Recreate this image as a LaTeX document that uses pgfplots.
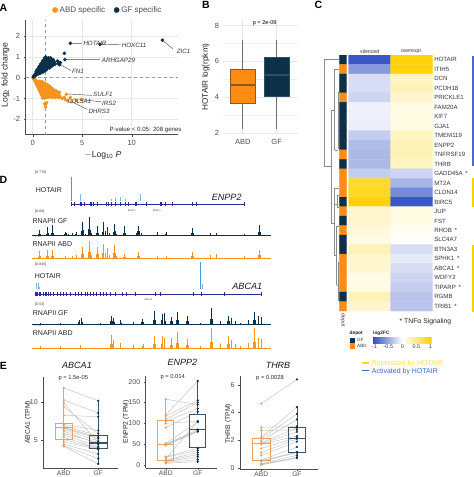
\documentclass[border=0pt]{standalone}
\usepackage{fontspec}
\setmainfont{Liberation Sans}
\usepackage{pgfplots}
\usepackage{pgfplotstable}
\pgfplotsset{compat=1.18}
\usepgfplotslibrary{statistics}
\definecolor{abd}{HTML}{F7941D}
\definecolor{gf}{HTML}{0D3049}
\definecolor{boxo}{HTML}{FF8A14}
\definecolor{boxe}{HTML}{8C5A1E}
\definecolor{eor}{HTML}{E9A15B}
\definecolor{egf}{HTML}{3E5468}
\definecolor{tickg}{HTML}{4D4D4D}
\definecolor{hblue}{HTML}{2F4FC4}
\definecolor{hyel}{HTML}{FFD000}
\definecolor{gene}{HTML}{2A2A9E}
\definecolor{peak}{HTML}{3C9FD6}
\definecolor{dend}{HTML}{8A8A8A}
\newcommand\fs[1]{\fontsize{#1}{#1}\selectfont}
\makeatletter
\tikzdeclarecoordinatesystem{px}{\px@parse#1\relax}
\def\px@parse#1,#2\relax{\pgfmathparse{477-(#2)}\pgf@y=\pgfmathresult pt\relax\pgf@x=#1pt\relax}
\makeatother
\pgfplotsset{
  base/.style={anchor=south west,scale only axis,/pgf/number format/assume math mode=true,
    ticklabel style={font=\fs{7.5},text=tickg},tick style={tickg},major tick length=2pt,boxplot/draw direction=y},
  track/.style={anchor=south west,scale only axis,hide axis,width=474pt,height=30pt,xmin=0,xmax=474,ymin=0,ymax=30,clip=false},
  pairs/.style={base,axis x line*=bottom,axis y line*=left,axis line style={tickg,line width=.7pt},
    tick align=outside,xtick={1,2},xticklabels={ABD,GF},xticklabel style={font=\fs{6.6},inner sep=.6pt},yticklabel style={font=\fs{7}},clip=false,
    boxplot/box extend=.5,boxplot/whisker extend=0,boxplot/every median/.style={line width=1.1pt}},
}
% ---- panel D tracks (x in picture pixels, y = signal height)
\pgfplotstableread[row sep=\\]{x y\\38.5 1.5\\39.3 5.7\\40.2 1.5\\46.5 2\\47.3 9\\48.2 2.5\\51.8 3\\52.7 10.7\\53.6 2.5\\57 1\\60 1\\64 2\\65 3.3\\66 2.5\\68 1.5\\70 1\\72.7 3\\75.7 1.5\\76.7 3.3\\78 1\\81.7 5\\82.7 14\\83.8 6\\85 2\\88 7\\89 19\\90 6\\91.2 3\\96 3\\97 9.7\\98 3\\102.7 4\\103.7 13.3\\105 5\\107.7 8.3\\109 3\\113 4\\114 12\\115 5\\116.5 2\\120 1\\123 3\\124 9.7\\125 3\\130 1\\136 2.5\\137.3 5\\138.3 10\\139.5 5\\141 3\\150 1\\157.3 3.7\\165.5 1.5\\166.7 3.7\\180 .8\\191.7 3\\192.7 8\\193.7 3\\200 .8\\210.7 2.3\\216.7 2.3\\225 .8\\235 .8\\244 1.7\\258.7 4\\259.7 10.7\\260.7 4\\}\trackA
\pgfplotstableread[row sep=\\]{x y\\38.5 1.5\\39.3 7.3\\40.2 2\\46.5 2\\47.3 8.3\\48.2 2.5\\51.8 2.5\\52.7 8.3\\53.6 2.5\\65 2.3\\72.7 2.3\\76.7 3.3\\81.7 4\\82.7 11\\83.8 4\\88 6\\89 17.3\\90 6\\91.2 3\\96 4\\97 11\\98 4\\102.7 5\\103.7 14.3\\105 5\\107.7 10\\109 3\\113 5\\114 13.7\\115 5\\116.5 2\\123 1.5\\124 4.3\\125 1.5\\137.3 2.5\\138.3 6.7\\139.5 2.5\\157.3 2.3\\166.7 2.3\\191.7 2\\192.7 6\\193.7 2\\210.7 3.3\\216.7 4.3\\244 2.3\\258.7 3\\259.7 8\\260.7 3\\}\trackB
\pgfplotstableread[row sep=\\]{x y\\40 1\\60 1\\78.5 2\\79.3 4.3\\81 6\\82 2\\100 1\\110 3\\111 8.7\\112 3\\113.3 6.7\\114.5 2\\120 4.3\\121 1.5\\133.3 2.7\\141.7 2\\142.7 5.3\\143.7 2\\153.3 4\\154.3 13.3\\155.3 4\\161.3 4\\162.3 10\\164.3 11\\165.3 3\\170 3\\171 7.3\\172 3\\176.3 4\\177.3 12\\178.3 4\\186.3 3\\187.3 8.7\\188.3 3\\200 1\\210.3 5\\211.3 16\\212.3 5\\220 3.7\\227.7 3\\228.7 8.7\\229.7 3\\231.3 6\\235 3.7\\240 1.5\\248.3 4.3\\253.3 4\\254.3 12.7\\255.3 4\\258.3 8.7\\261 7.7\\}\trackC
\pgfplotstableread[row sep=\\]{x y\\40 2\\60 2\\80 3\\110 4\\111 13\\112 4\\113 8\\120 5\\133 3\\142 1.5\\143 4\\154.3 12\\153.3 4\\155.3 4\\161.3 4\\162.3 12\\164.3 10\\170 3\\171 10\\172 3\\176.3 5\\177.3 15.7\\178.3 5\\186.3 3\\187.3 9\\188.3 3\\200 1.5\\210.3 6\\211.3 19.7\\212.3 6\\220 4\\227.7 4\\228.7 12\\229.7 4\\231 8\\235 4\\240 2\\248 5\\253.3 6\\254.3 20.3\\255.3 6\\258.3 10\\261 9\\}\trackD
% ---- panel E pairs
\pgfplotstableread[row sep=\\]{x y\\1 11.9\\2 10.2\\nan nan\\1 10.3\\2 8.6\\nan nan\\1 9.9\\2 4.7\\nan nan\\1 9.4\\2 5.9\\nan nan\\1 8.3\\2 8.1\\nan nan\\1 7.1\\2 6.3\\nan nan\\1 6.9\\2 5.6\\nan nan\\1 6.7\\2 5.4\\nan nan\\1 6.6\\2 5.2\\nan nan\\1 6.4\\2 4.9\\nan nan\\1 6.2\\2 4.5\\nan nan\\1 5.9\\2 4.7\\nan nan\\1 5.7\\2 4.2\\nan nan\\1 5.4\\2 4.0\\nan nan\\1 5.1\\2 3.9\\nan nan\\1 4.8\\2 3.8\\nan nan\\1 4.5\\2 3.2\\nan nan\\1 4.3\\2 2.6\\nan nan\\1 4.2\\2 1.9\\}\pairA
\pgfplotstableread[row sep=\\]{x y\\1 158\\2 145\\nan nan\\1 120\\2 202\\nan nan\\1 118\\2 155\\nan nan\\1 110\\2 150\\nan nan\\1 105\\2 135\\nan nan\\1 100\\2 105\\nan nan\\1 90\\2 128\\nan nan\\1 52\\2 103\\nan nan\\1 50\\2 85\\nan nan\\1 48\\2 82\\nan nan\\1 47\\2 80\\nan nan\\1 20\\2 40\\nan nan\\1 18\\2 35\\nan nan\\1 15\\2 105\\nan nan\\1 12\\2 30\\nan nan\\1 10\\2 25\\nan nan\\1 8\\2 20\\nan nan\\1 6\\2 13\\nan nan\\1 4\\2 8\\}\pairB
\pgfplotstableread[row sep=\\]{x y\\1 4.65\\2 6.4\\nan nan\\1 2.93\\2 3.0\\nan nan\\1 2.7\\2 2.75\\nan nan\\1 2.2\\2 4.4\\nan nan\\1 2.1\\2 3.9\\nan nan\\1 1.95\\2 3.5\\nan nan\\1 1.8\\2 2.9\\nan nan\\1 1.75\\2 2.6\\nan nan\\1 1.7\\2 2.3\\nan nan\\1 1.4\\2 2.2\\nan nan\\1 1.1\\2 2.1\\nan nan\\1 .9\\2 1.9\\nan nan\\1 .55\\2 1.5\\nan nan\\1 .5\\2 1.15\\nan nan\\1 .45\\2 1.1\\nan nan\\1 .3\\2 .9\\nan nan\\1 .25\\2 .75\\nan nan\\1 .2\\2 .7\\}\pairC
\newcommand\pairplots[1]{%
  \addplot[gray!45,line width=.5pt,unbounded coords=jump] table {#1};
  \addplot[only marks,mark=*,mark size=.9pt,eor,restrict x to domain=.5:1.5] table {#1};
  \addplot[only marks,mark=*,mark size=.9pt,gf,restrict x to domain=1.5:2.5] table {#1};
}
\begin{document}
\begin{tikzpicture}
\path[use as bounding box] (0,0) rectangle (474pt,477pt);
% ================= A
\begin{axis}[base,at={(px cs:25.7,134.7)},width=152.3pt,height=114.7pt,
  xmin=-.71,xmax=14.68,ymin=-2.74,ymax=2.77,xtick={0,5,10},ytick={-2,-1,0,1,2},
  axis x line*=bottom,axis y line*=left,axis line style={tickg,line width=1pt},tick align=outside,
  grid=major,grid style={gray!18,line width=.5pt},clip=false,
  legend columns=2,legend style={at={(.155,1.087)},anchor=west,draw=none,fill=none,font=\fs{8},text=tickg,
    /tikz/every even column/.append style={column sep=7pt}},
  legend image post style={mark size=2.6pt}]
\addplot[only marks,mark=*,mark size=1.6pt,abd] coordinates {(.05,-.03)(.1,-.08)(.15,-.05)(.2,-.15)(.2,-.1)(.3,-.25)(.3,-.12)(.4,-.35)(.4,-.2)(.5,-.45)(.5,-.3)(.5,-.18)(.6,-.55)(.6,-.4)(.6,-.25)(.7,-.65)(.7,-.5)(.7,-.3)(.7,-.18)(.8,-.75)(.8,-.6)(.8,-.45)(.8,-.3)(.8,-.2)(.9,-.85)(.9,-.7)(.9,-.5)(.9,-.35)(.9,-.22)(1,-.98)(1,-.85)(1,-.75)(1,-.6)(1,-.45)(1,-.3)(1,-.2)(1.1,-.95)(1.1,-.85)(1.1,-.7)(1.1,-.55)(1.1,-.35)(1.1,-.25)(1.2,-.98)(1.2,-.9)(1.2,-.75)(1.2,-.6)(1.2,-.45)(1.2,-.3)(1.3,-.95)(1.3,-.85)(1.3,-.7)(1.3,-.55)(1.3,-.4)(1.3,-.3)(1.4,-.9)(1.4,-.75)(1.4,-.6)(1.4,-.45)(1.4,-.33)(1.5,-.95)(1.5,-.88)(1.5,-.7)(1.5,-.5)(1.5,-.36)(1.6,-.93)(1.6,-.8)(1.6,-.65)(1.6,-.5)(1.6,-.38)(1.7,-.9)(1.7,-.75)(1.7,-.6)(1.7,-.42)(1.8,-.92)(1.8,-.85)(1.8,-.7)(1.8,-.55)(1.8,-.45)(1.9,-.8)(1.9,-.65)(1.9,-.5)(2,-.95)(2,-.85)(2,-.7)(2,-.55)(2.1,-.9)(2.1,-.75)(2.1,-.58)(2.2,-.85)(2.2,-.65)(2.3,-.95)(2.3,-.75)(2.3,-.62)(2.4,-.8)(2.4,-.65)(2.5,-.9)(2.5,-.7)(2.6,-.95)(2.6,-.75)(2.7,-.7)(2.7,-.85)(2.8,-.95)(3,-1.0)(3.4,-.8)(3.2,-.95)(3.3,-1.05)(3.5,-1.1)(3.8,-.95)(3.9,-1.15)(4.4,-1.1)(4.9,-1.05)(1.2,-1.25)(1.3,-1.3)(1.4,-1.2)(1.3,-1.42)};
\addlegendentry{ABD specific}
\addplot[only marks,mark=*,mark size=1.6pt,gf] coordinates {(.05,.03)(.1,.08)(.15,.05)(.2,.15)(.2,.08)(.3,.2)(.3,.1)(.35,.28)(.4,.15)(.4,.35)(.45,.22)(.5,.4)(.5,.28)(.55,.18)(.6,.5)(.6,.35)(.65,.25)(.7,.55)(.7,.42)(.7,.3)(.7,.2)(.8,.65)(.8,.5)(.8,.35)(.85,.25)(.9,.7)(.9,.55)(.9,.42)(.9,.25)(1,.8)(1,.65)(1,.5)(1,.35)(1.05,.28)(1.1,.85)(1.1,.7)(1.1,.55)(1.1,.42)(1.1,.3)(1.2,.95)(1.2,.78)(1.2,.62)(1.2,.45)(1.25,.35)(1.3,1.0)(1.3,.85)(1.3,.7)(1.3,.55)(1.3,.42)(1.4,.95)(1.4,.8)(1.4,.65)(1.4,.5)(1.4,.38)(1.5,.85)(1.5,.72)(1.5,.58)(1.5,.45)(1.6,.95)(1.6,.8)(1.6,.65)(1.6,.5)(1.7,.88)(1.7,.72)(1.7,.58)(1.7,.47)(1.8,.95)(1.8,.8)(1.8,.65)(1.8,.52)(1.9,.9)(1.9,.75)(1.9,.6)(2,.85)(2,.7)(2,.58)(2.1,.85)(2.1,.72)(2.1,.62)(2.2,.75)(2.25,.65)(2.5,.8)(2.55,.68)(2.6,.75)(2.7,.62)(2.8,.72)(3.25,.87)(3.2,1.17)(3.8,1.65)(6.8,1.6)(13.1,1.8)};
\addlegendentry{GF specific}
\addplot[forget plot,gray!80,dashed,line width=.6pt] coordinates {(1.3,-2.74)(1.3,2.77)};
\addplot[forget plot,gray!80,dashed,line width=.6pt] coordinates {(-.71,0)(14.68,0)};
\addplot[forget plot,tickg,line width=.45pt,unbounded coords=jump] coordinates {(3.8,1.65)(4.97,1.65)(nan,nan)(6.8,1.6)(8.92,1.58)(nan,nan)(13.1,1.8)(14.15,1.39)(nan,nan)(3.25,.87)(6.8,.87)(nan,nan)(2.5,.7)(3.88,.34)(nan,nan)(3.4,-.78)(5.98,-.85)(nan,nan)(4.9,-1.05)(6.9,-1.16)(nan,nan)(3.9,-1.15)(5.5,-1.52)};
\end{axis}
\node[anchor=center,rotate=90,text=black!85,font=\fs{8.6}] at (px cs:5.5,75) {Log$_{\mathrm{2}}$ fold change};
\node[anchor=center,text=black!85,font=\fs{8.6}] at (px cs:103,155.5) {$-$Log$_{\mathrm{10}}$ \textit{P}};
\foreach \t/\x/\y in {HOTAIR/83.3/43.3,HOXC11/121.7/45,ZIC1/176.7/51,ARHGAP29/101.7/60,FN1/72/71.7,SULF1/93/94.3,COL5A1/67.3/101,IRS2/102/103,DHRS3/88.3/111}
  \node[anchor=west,inner sep=0pt,text=black!80,font=\fs{6.2}\itshape] at (px cs:\x,\y) {\t};
\node[anchor=east,inner sep=0pt,text=black!85,font=\fs{6.1}] at (px cs:181.7,130) {P-value < 0.05: 208 genes};
% ================= B
\begin{axis}[base,at={(px cs:222.7,133.3)},width=75pt,height=113.3pt,xmin=.41,xmax=2.62,ymin=1.97,ymax=8.32,
  xtick={1,2},xticklabels={ABD,GF},ytick={2,4,6,8},minor y tick num=1,grid=both,
  xticklabel style={yshift=-2.5pt},
  grid style={gray!18,line width=.5pt},minor grid style={gray!12,line width=.4pt},
  axis line style={draw=none},tick style={draw=none},minor tick length=0pt,
  boxplot/box extend=.75,boxplot/whisker extend=0,
  boxplot/every whisker/.style={gray!85!black,line width=1.1pt},
  boxplot/every median/.style={line width=1.3pt}]
\addplot[boxplot prepared={draw position=1,lower whisker=2.2,lower quartile=3.68,median=4.68,upper quartile=5.55,upper whisker=7.2},fill=boxo,draw=boxe] coordinates {};
\addplot[boxplot prepared={draw position=2,lower whisker=2.2,lower quartile=4.04,median=5.23,upper quartile=6.26,upper whisker=7.2},fill=gf,draw=gf!85!white] coordinates {};
\end{axis}
\node[rotate=90,text=black!85,font=\fs{8.2}] at (px cs:205.7,77) {HOTAIR log(rpkm)};
\node[text=black,font=\fs{5.6}] at (px cs:264.7,23.3) {p = 2e-09};
% ================= C
\begin{axis}[anchor=south west,scale only axis,at={(px cs:348.7,311)},width=84pt,height=256pt,
  /pgf/number format/assume math mode=true,
  y dir=reverse,xmin=.5,xmax=2.5,ymin=.5,ymax=27.5,
  xtick={1,2},xticklabels={silenced,overexpr.},xticklabel pos=top,xticklabel style={font=\fs{5.2},text=black!80,inner sep=1pt},
  ytick={1,...,27},yticklabel pos=right,yticklabel style={font=\fs{6.1},text=black!80,inner sep=1.4pt,anchor=west},
  yticklabels={HOTAIR,ITIH5,DCN,PCDH18,PRICKLE1,FAM20A,KIF7,GJA1,TMEM119,ENPP2,TNFRSF19,THRB,GADD45A \,*,MT2A,CLDN14,BIRC5,JUP,FST,RHOB \,*,SLC4A7,BTN3A3,SPHK1 \,*,ABCA1 \,*,WDFY2,TIPARP \,*,RGMB,TRIB1 \,*},
  major tick length=0pt,axis line style={draw=none},
  colormap={hm}{rgb255(0)=(47,79,196) rgb255(1)=(255,255,255) rgb255(2)=(255,208,0)},
  point meta min=-1.05,point meta max=1.05,
  colorbar horizontal,
  colorbar style={at={(.289,-.126)},anchor=south west,width=58.7pt,height=5.6pt,scale only axis,
    xtick={-1,-.5,0,.5,1},xticklabel style={font=\fs{5.4},text=black!80,inner sep=1pt},
    major tick length=0pt,axis line style={draw=none},
    /pgf/number format/assume math mode=true}]
\addplot[matrix plot*,mesh/cols=2,point meta=explicit] table[row sep=\\,meta=c] {x y c\\
1 1 -1\\2 1 1\\1 2 -.6\\2 2 1\\1 3 -.2\\2 3 .25\\1 4 -.2\\2 4 .3\\1 5 -.25\\2 5 .2\\1 6 -.08\\2 6 .12\\1 7 -.08\\2 7 .12\\1 8 -.1\\2 8 .12\\1 9 -.3\\2 9 .25\\1 10 -.4\\2 10 .3\\1 11 -.42\\2 11 .3\\1 12 -.42\\2 12 .25\\1 13 -.3\\2 13 -.25\\1 14 .85\\2 14 -.45\\1 15 .9\\2 15 -.7\\1 16 1\\2 16 -1\\1 17 .2\\2 17 .12\\1 18 .2\\2 18 .12\\1 19 .15\\2 19 .05\\1 20 .12\\2 20 .03\\1 21 .3\\2 21 -.2\\1 22 .2\\2 22 -.12\\1 23 .2\\2 23 -.2\\1 24 .1\\2 24 -.25\\1 25 .1\\2 25 -.3\\1 26 .3\\2 26 -.35\\1 27 .2\\2 27 -.35\\};
\end{axis}
% depot annotation
\begin{axis}[anchor=south west,scale only axis,at={(px cs:339.3,311)},width=7.4pt,height=256pt,hide axis,
  y dir=reverse,xmin=.5,xmax=2.5,ymin=.5,ymax=27.5,
  colormap={dp}{color=(gf) color=(boxo)},point meta min=0,point meta max=1]
\addplot[matrix plot*,mesh/cols=2,point meta=explicit] table[row sep=\\,meta=c] {x y c\\
1 1 0\\2 1 0\\1 2 1\\2 2 1\\1 3 0\\2 3 0\\1 4 0\\2 4 0\\1 5 1\\2 5 1\\1 6 0\\2 6 0\\1 7 0\\2 7 0\\1 8 0\\2 8 0\\1 9 0\\2 9 0\\1 10 0\\2 10 0\\1 11 1\\2 11 1\\1 12 0\\2 12 0\\1 13 1\\2 13 1\\1 14 1\\2 14 1\\1 15 1\\2 15 1\\1 16 0\\2 16 0\\1 17 1\\2 17 1\\1 18 0\\2 18 0\\1 19 1\\2 19 1\\1 20 0\\2 20 0\\1 21 0\\2 21 0\\1 22 1\\2 22 1\\1 23 1\\2 23 1\\1 24 1\\2 24 1\\1 25 1\\2 25 1\\1 26 0\\2 26 0\\1 27 1\\2 27 1\\};
\end{axis}
% dendrogram
\begin{scope}[dend,line width=.45pt]
\foreach \a/\b/\c/\d in {339/59.7/324/59.7,324/59.7/324/166,324/166/331.3/166,331.3/110/331.3/223,331.3/110/334.7/110,334.7/69/334.7/150,334.7/69/339/69,334.7/150/338/150,338/92/338/149,338/92/339/92,338/120/339/120,331.3/223/334/223,334/188/334/255,334/188/339/188,334/204/337/204,337/195/337/207,337/195/339/195,337/207/339/207,334/255/336.5/255,336.5/226/336.5/285,336.5/226/339/226,336.5/285/338/285,338/262/338/300,338/262/339/262,338/300/339/300}
  \draw (px cs:\a,\b) -- (px cs:\c,\d);
\end{scope}
\fill[hblue!85] (px cs:471.7,56) rectangle (px cs:474,166);
\fill[hyel] (px cs:471.7,178) rectangle (px cs:474,207);
\fill[hyel] (px cs:471.7,245) rectangle (px cs:474,312);
\node[rotate=270,font=\fs{5.2},text=black!80] at (px cs:343,320) {depot};
\node[font=\fs{6.8},text=black!85,anchor=west,inner sep=0pt] at (px cs:399.5,322) {* TNFα Signaling};
\node[font=\fs{4.8}\bfseries,anchor=west,inner sep=0pt,text=black!85] at (px cs:349.5,333) {depot};
\node[font=\fs{4.8}\bfseries,anchor=west,inner sep=0pt,text=black!85] at (px cs:373,333) {log2FC};
\fill[gf] (px cs:349.7,337.7) rectangle (px cs:354.7,343);
\fill[boxo] (px cs:349.7,343) rectangle (px cs:354.7,349);
\node[font=\fs{4.6},anchor=west,inner sep=0pt,text=black!80] at (px cs:357,340.3) {GF};
\node[font=\fs{4.6},anchor=west,inner sep=0pt,text=black!80] at (px cs:357,346.3) {ABD};
\draw[hyel!85,line width=1.2pt] (px cs:361.7,363) -- (px cs:369,363);
\draw[hblue!85,line width=1.2pt] (px cs:361.7,370.7) -- (px cs:369,370.7);
\node[font=\fs{7},anchor=west,inner sep=0pt,text=hyel!70] at (px cs:371.7,363.3) {Repressed by HOTAIR};
\node[font=\fs{7},anchor=west,inner sep=0pt,text=hblue!70!peak] at (px cs:371.7,371.3) {Activated by HOTAIR};
% ================= D
\begin{axis}[track,at={(px cs:0,200.7)}]
\addplot[ycomb,peak,line width=.9pt] coordinates {(71.7,24)};
\addplot[ycomb,peak!70,line width=.5pt] coordinates {(80,6.7)(111.3,1.5)(115,2.5)(120.7,3.5)(125,2)(140.7,6.7)};
\end{axis}
\begin{axis}[track,at={(px cs:0,219.3)},ymin=-15,ymax=15]
\addplot[gene,line width=.35pt] coordinates {(71.7,0)(244,0)};
\addplot[only marks,gene,mark=|,mark size=1.9pt,mark options={line width=.55pt}] coordinates {(71.7,0)(74,0)(80,0)(81.7,0)(84,0)(90,0)(91.7,0)(93.3,0)(97.3,0)(106.7,0)(108.3,0)(111,0)(115,0)(120.7,0)(125,0)(128.3,0)(135,0)(136.7,0)(146.7,0)(160,0)(161,0)(165.7,0)(172.3,0)(192,0)(196.7,0)(244,0)};
\end{axis}
\begin{axis}[track,at={(px cs:0,235.7)}]
\addplot[ycomb,gf,line width=.7pt] table {\trackA};
\addplot[gf,line width=.5pt] coordinates {(32,.2)(271,.2)};
\end{axis}
\begin{axis}[track,at={(px cs:0,258.3)}]
\addplot[ycomb,abd,line width=.7pt] table {\trackB};
\addplot[abd,line width=.5pt] coordinates {(32,.2)(271,.2)};
\end{axis}
\begin{axis}[track,at={(px cs:0,289.3)}]
\addplot[ycomb,peak,line width=.9pt] coordinates {(200.3,27)};
\addplot[ycomb,peak!70,line width=.6pt] coordinates {(202.7,5)(36.7,6.6)(38.3,6.6)(39.5,2)};
\end{axis}
\begin{axis}[track,at={(px cs:0,308.7)},ymin=-15,ymax=15]
\addplot[gene,line width=.35pt] coordinates {(35.3,0)(261,0)};
\addplot[only marks,gene,mark=|,mark size=1.9pt,mark options={line width=.55pt}] coordinates {(35.3,0)(36.5,0)(37.7,0)(39,0)(40,0)(43.3,0)(45,0)(46.7,0)(48.3,0)(50.7,0)(53.3,0)(57.3,0)(60,0)(63.3,0)(66,0)(70,0)(75,0)(78.3,0)(81.7,0)(85,0)(87.3,0)(90,0)(93.3,0)(96.7,0)(100,0)(103.3,0)(106.7,0)(110,0)(115,0)(122.3,0)(126.7,0)(135,0)(155,0)(160,0)(193.3,0)(201,0)(224,0)(261,0)};
\end{axis}
\begin{axis}[track,at={(px cs:0,324.3)}]
\addplot[ycomb,gf,line width=.7pt] table {\trackC};
\addplot[gf,line width=.5pt] coordinates {(32,.2)(271,.2)};
\end{axis}
\begin{axis}[track,at={(px cs:0,348)}]
\addplot[ycomb,abd,line width=.7pt] table {\trackD};
\addplot[abd,line width=.5pt] coordinates {(32,.2)(271,.2)};
\end{axis}
\foreach \t/\x/\y in {{[0-776]}/35/172.7,{[0-66]}/35/211.3,{[0-845]}/35/265,{[0-53]}/35/304.3}
  \node[anchor=west,inner sep=0pt,font=\fs{3.6},text=black!75] at (px cs:\x,\y) {\t};
\foreach \t/\x/\y in {HOTAIR/35.7/190.3,{RNAPII GF}/32.3/220.7,{RNAPII ABD}/32.3/244.3,HOTAIR/34.7/276.2,{RNAPII GF}/32.7/312.7,{RNAPII ABD}/32.7/332.7}
  \node[anchor=west,inner sep=0pt,font=\fs{7},text=black!85] at (px cs:\x,\y) {\t};
\node[font=\fs{9.1}\itshape,text=black!90] at (px cs:226.7,197.3) {ENPP2};
\node[font=\fs{9.1}\itshape,text=black!90] at (px cs:247.3,286.7) {ABCA1};
\node[font=\fs{2.4},text=black!75] at (px cs:131.7,210.7) {ENPP2};
\node[font=\fs{2.4},text=black!75] at (px cs:156.7,210.7) {ENPP2};
\node[font=\fs{2.4},text=black!75] at (px cs:148.3,299.7) {ABCA1};
\node[font=\fs{2.4},text=black!75] at (px cs:38,236.7) {0 - 66};
\node[font=\fs{2.4},text=black!75] at (px cs:38,325.7) {0 - 53};
% ================= E
\begin{axis}[pairs,at={(px cs:43.3,468.3)},width=75pt,height=91.6pt,xmin=.41,xmax=2.58,ymin=1.32,ymax=13.37,ytick={5,10}]
\pairplots{\pairA}
\addplot[boxplot prepared={draw position=1,lower whisker=4.17,lower quartile=5.13,median=6.71,upper quartile=7.28,upper whisker=11.9},draw=eor,line width=.7pt] coordinates {};
\addplot[boxplot prepared={draw position=2,lower whisker=1.84,lower quartile=3.9,median=4.65,upper quartile=5.6,upper whisker=10.2},draw=egf,line width=.7pt] coordinates {};
\end{axis}
\begin{axis}[pairs,at={(px cs:145.7,468.3)},width=71pt,height=92.3pt,xmin=.375,xmax=2.59,ymin=-8,ymax=213.7,ytick={0,50,100,150,200}]
\pairplots{\pairB}
\addplot[boxplot prepared={draw position=1,lower whisker=4,lower quartile=10,median=50,upper quartile=108,upper whisker=158},draw=eor,line width=.7pt] coordinates {};
\addplot[boxplot prepared={draw position=2,lower whisker=4,lower quartile=42,median=86,upper quartile=121,upper whisker=202},draw=egf,line width=.7pt] coordinates {};
\end{axis}
\begin{axis}[pairs,at={(px cs:240,469)},width=78.3pt,height=93pt,xmin=.403,xmax=2.6,ymin=-.09,ymax=6.65,ytick={0,2,4,6}]
\pairplots{\pairC}
\addplot[boxplot prepared={draw position=1,lower whisker=.2,lower quartile=.53,median=1.75,upper quartile=2.1,upper whisker=2.93},draw=eor,line width=.7pt] coordinates {};
\addplot[boxplot prepared={draw position=2,lower whisker=.68,lower quartile=1.11,median=2.13,upper quartile=2.93,upper whisker=4.4},draw=egf,line width=.7pt] coordinates {};
\end{axis}
\node[font=\fs{9}\itshape,text=black!90] at (px cs:77,365) {ABCA1};
\node[font=\fs{9}\itshape,text=black!90] at (px cs:182.3,362.7) {ENPP2};
\node[font=\fs{9}\itshape,text=black!90] at (px cs:278,365) {THRB};
\node[font=\fs{5.8},text=black!85] at (px cs:73.3,377.7) {p = 1.5e-05};
\node[font=\fs{5.8},text=black!85] at (px cs:172.7,377.3) {p = 0.014};
\node[font=\fs{5.8},text=black!85] at (px cs:270,377.7) {p = 0.0028};
\node[rotate=90,font=\fs{6.8},text=black!85] at (px cs:28,422.3) {ABCA1 (TPM)};
\node[rotate=90,font=\fs{6.8},text=black!85] at (px cs:126,422) {ENPP2 (TPM)};
\node[rotate=90,font=\fs{6.8},text=black!85] at (px cs:228.3,423.7) {THRB (TPM)};
% panel letters
\foreach \t/\x/\y in {A/3.5/8,B/206/5,C/318.3/5,D/3.5/180,E/3.5/366}
  \node[font=\fs{10.5}\bfseries,inner sep=0pt] at (px cs:\x,\y) {\t};
\end{tikzpicture}
\end{document}
